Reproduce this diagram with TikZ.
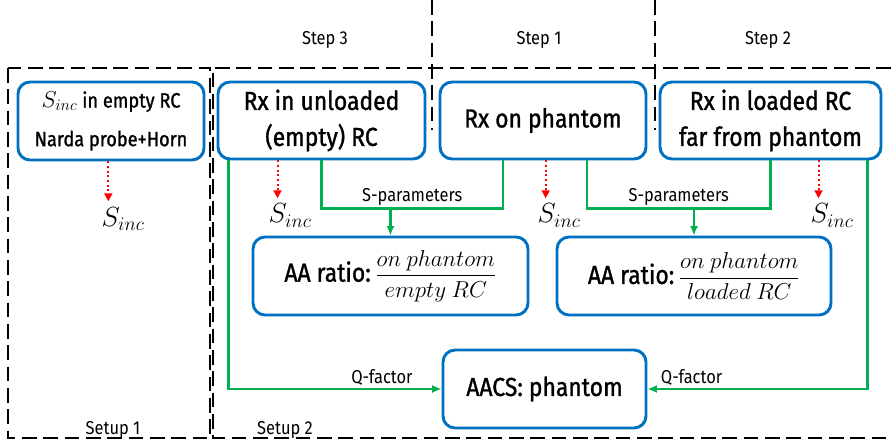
\documentclass[tikz,border=0pt]{standalone}
\usepackage{amsmath}
\usepackage{fontspec}
\setmainfont{Fira Sans}[FakeStretch=0.88]
\usetikzlibrary{arrows.meta}
\definecolor{boxblue}{RGB}{0,112,192}
\definecolor{lnkgreen}{RGB}{0,176,80}
\newcommand{\boxtxt}{\fontsize{19.5}{27}\selectfont\addfontfeatures{FakeBold=1.2}}
\newcommand{\smalltxt}{\fontsize{15.5}{18}\selectfont\addfontfeatures{FakeBold=1.2}}
\newcommand{\notetxt}{\fontsize{14}{17}\selectfont}
\tikzset{every picture/.style={line width=0.75pt},
  procbox/.style={draw=boxblue,line width=2.2pt,rounded corners=9pt,align=center,inner sep=0pt,font=\boxtxt},
  frameline/.style={line width=1.8pt,dash pattern=on 11pt off 5pt},
  qline/.style={draw=lnkgreen,line width=2.2pt},
  qarrow/.style={qline,-{Latex[length=7pt,width=6pt]}},
  incline/.style={red,line width=1.5pt,dotted,shorten >=4pt,-{Triangle[length=6pt,width=6pt]}},
  note/.style={font=\notetxt,inner sep=1.5pt},
  incnote/.style={font=\fontsize{20}{20}\selectfont,inner sep=0pt,anchor=base west}}

\begin{document}
\begin{tikzpicture}[x=0.75pt,y=0.75pt,yscale=-1,xscale=1]
\useasboundingbox (0,0) rectangle (891,445);
% frames of the two setups and the step columns
\draw[frameline] (8,68) rectangle (210,438);
\draw[frameline] (891,68) -- (213,68) -- (213,438) -- (891,438);
\draw[frameline] (432,0) -- (432,130);
\draw[frameline] (655,0) -- (655,130);
\node[note,anchor=base] (st3) at (325,45) {Step 3};
\node[note,anchor=base] (st1) at (539,45) {Step 1};
\node[note,anchor=base] (st2) at (768,45) {Step 2};
\node[note,anchor=base] (set1) at (113,434) {Setup 1};
\node[note,anchor=base] (set2) at (285,434) {Setup 2};
% measurement boxes
\node[procbox,minimum width=139.5pt,minimum height=58.5pt,font=\smalltxt] (sinc) at (111,121) {{\fontsize{18}{18}\selectfont$S_{inc}$} in empty RC\\[11pt]Narda probe+Horn};
\node[procbox,minimum width=155.25pt,minimum height=57.75pt] (unl) at (321.5,120.5) {Rx in unloaded\\(empty) RC};
\node[procbox,minimum width=154.5pt,minimum height=57.75pt] (phan) at (543,120.5) {Rx on phantom};
\node[procbox,minimum width=165.75pt,minimum height=57.75pt] (load) at (770.5,120.5) {Rx in loaded RC\\far from phantom};
\node[procbox,minimum width=206.25pt,minimum height=58.5pt] (aa1) at (390.5,276) {AA ratio:\,{\fontsize{18}{18}\selectfont$\dfrac{on\ phantom}{empty\ RC}$}};
\node[procbox,minimum width=205.5pt,minimum height=58.5pt] (aa2) at (694,276) {AA ratio:\,{\fontsize{18}{18}\selectfont$\dfrac{on\ phantom}{loaded\ RC}$}};
\node[procbox,minimum width=152.25pt,minimum height=58.5pt] (aacs) at (544.5,389) {AACS: phantom};
% incident power
\node[incnote] (si0) at (101,226) {$S_{inc}$};
\node[incnote] (si1) at (268,223) {$S_{inc}$};
\node[incnote] (si2) at (537,223) {$S_{inc}$};
\node[incnote] (si3) at (810,223) {$S_{inc}$};
\draw[incline] ([xshift=-2pt]sinc.south) -- ([xshift=-2pt]sinc.south |- si0.north);
\draw[incline] ([xshift=-33pt]unl.south) -- ([xshift=-33pt]unl.south |- si1.north);
\draw[incline] ([xshift=2pt]phan.south) -- ([xshift=2pt]phan.south |- si2.north);
\draw[incline] ([xshift=36pt]load.south) -- ([xshift=36pt]load.south |- si3.north);
% S-parameters
\draw[qline] (unl.south) -- ++(0,48) coordinate (sj1) -| ([xshift=-30pt]phan.south) node[note,pos=0.25,above] (sp1) {S-parameters};
\draw[qarrow] (sj1 -| aa1.north) -- (aa1.north);
\draw[qline] ([xshift=33pt]phan.south) -- ++(0,48) coordinate (sj2) -| (load.south) node[note,pos=0.25,above] (sp2) {S-parameters};
\draw[qarrow] (sj2 -| aa2.north) -- (aa2.north);
% Q-factor
\draw[qarrow] ([xshift=9pt]unl.south west) |- (aacs.west) node[note,pos=0.86,above] (qf1) {Q-factor};
\draw[qarrow] ([xshift=-11pt]load.south east) |- (aacs.east) node[note,pos=0.9,above] (qf2) {Q-factor};
\end{tikzpicture}
\end{document}
